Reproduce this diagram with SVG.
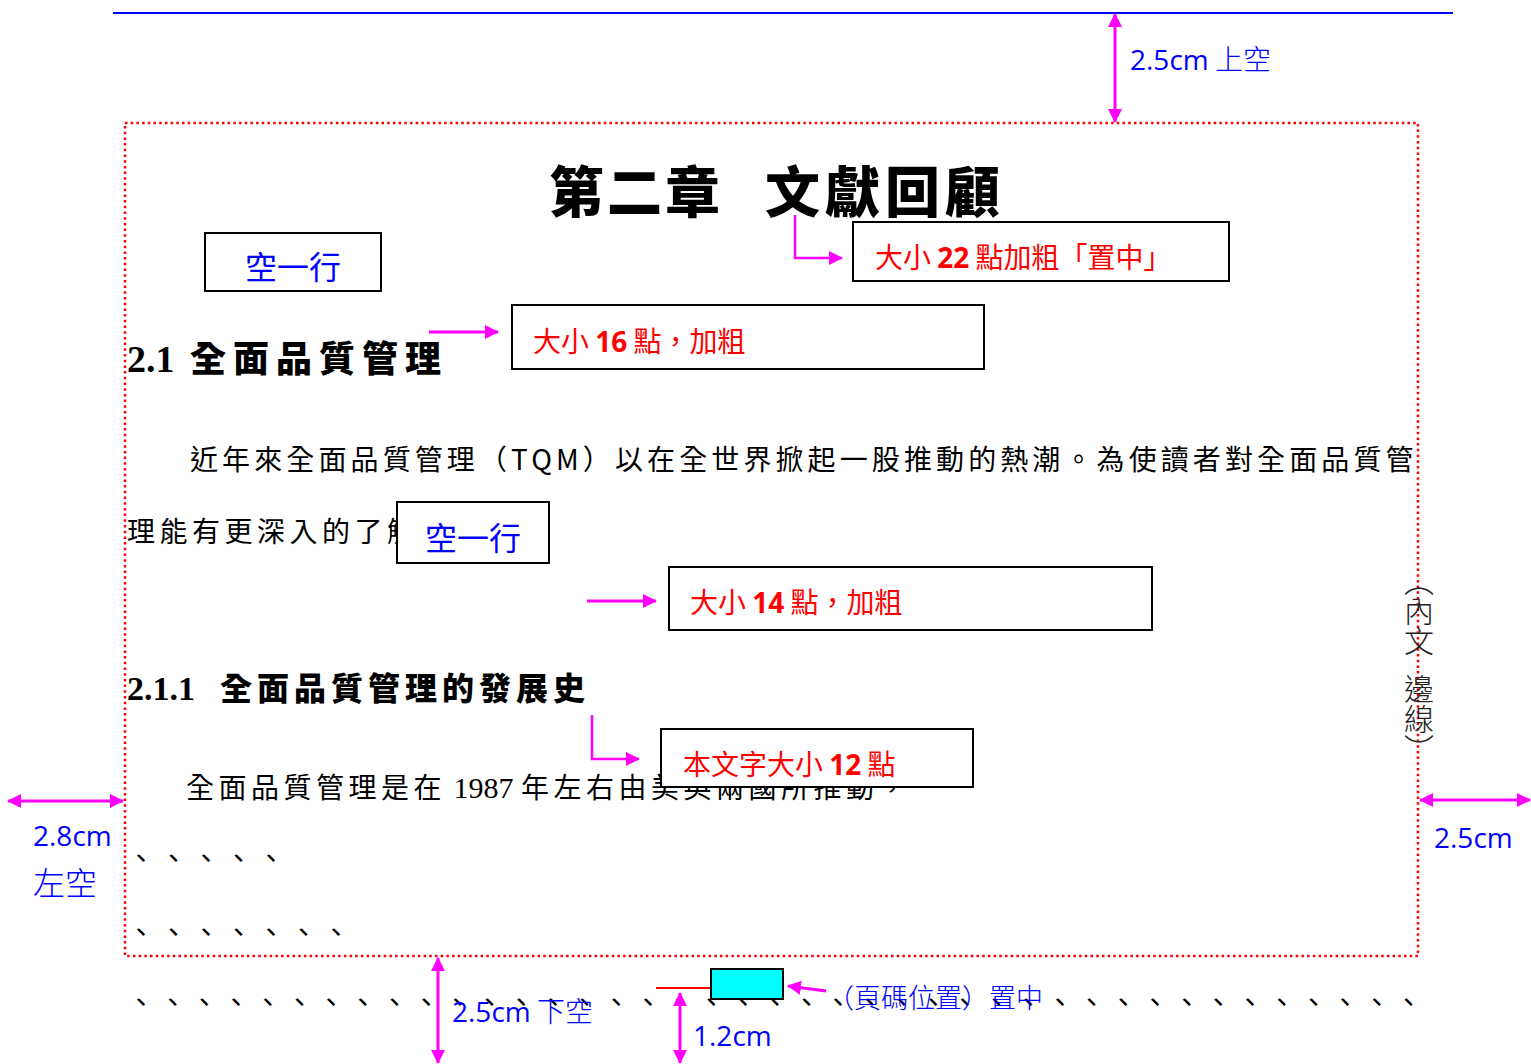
<svg xmlns="http://www.w3.org/2000/svg" width="1531" height="1064" viewBox="0 0 1531 1064">
<style>
.cjk{font-family:"Noto Sans CJK TC","Noto Sans CJK SC",sans-serif}
.lat{font-family:"Open Sans","Noto Sans",sans-serif}
.body{font-family:"Noto Sans CJK TC",sans-serif;font-size:28px;letter-spacing:4.5px;fill:#000}
.head{font-family:"Noto Sans CJK TC",sans-serif;font-weight:900;fill:#000}
.num{font-family:"Liberation Serif",serif;font-weight:bold}
.red{fill:#ff0000;font-size:28px}
.blue{fill:#0000ff}
.box{fill:#fff;stroke:#000;stroke-width:2}
.dim{stroke:#ff00ff;stroke-width:3;fill:none}
.con{stroke:#ff00ff;stroke-width:2.5;fill:none}
</style>
<defs>
<marker id="ah" viewBox="0 0 14 14" refX="13" refY="7" markerWidth="14" markerHeight="14" markerUnits="userSpaceOnUse" orient="auto-start-reverse">
<path d="M0,0 L14,7 L0,14 z" fill="#ff00ff"/>
</marker>
</defs>

<g id="page-lines">
<line x1="113" y1="13" x2="1453" y2="13" stroke="#0000ff" stroke-width="2"/>
<rect x="125" y="123" width="1293" height="833" fill="none" stroke="#ff0000" stroke-width="2.5" stroke-dasharray="2.5 3.2"/>
</g>

<g id="title">
<text class="head" x="549" y="212" font-size="55" letter-spacing="3">第二章 <tspan x="765" letter-spacing="5">文獻回顧</tspan></text>
</g>

<g id="heading-2-1">
<text x="127" y="372" class="head"><tspan class="num" font-size="38">2.1</tspan><tspan x="190" font-size="36" letter-spacing="7">全面品質管理</tspan></text>
</g>

<g id="body-1">
<text class="body" x="190" y="470" textLength="1228" lengthAdjust="spacing">近年來全面品質管理（TQM）以在全世界掀起一股推動的熱潮。為使讀者對全面品質管</text>
<text class="body" x="127" y="542">理能有更深入的了解</text>
</g>

<g id="heading-2-1-1">
<text x="127" y="700" class="head"><tspan class="num" font-size="34">2.1.1</tspan><tspan x="220" font-size="32" letter-spacing="5">全面品質管理的發展史</tspan></text>
</g>

<g id="body-2">
<text class="body" x="186" y="798"><tspan>全面品質管理是在</tspan><tspan font-family="Liberation Serif" font-size="30" letter-spacing="0"> 1987 </tspan><tspan>年左右由美英兩國所推動，</tspan></text>
<text class="body" x="127" y="869">、、、、、</text>
<text class="body" x="127" y="943">、、、、、、、</text>
<text class="body" x="127" y="1013" textLength="1300" lengthAdjust="spacing">、、、、、、、、、、、、、、、、、、、、、、、、、、、、、、、、、、、、、、、、、</text>
</g>

<g id="connectors">
<line class="dim" x1="1115" y1="14" x2="1115" y2="122" marker-start="url(#ah)" marker-end="url(#ah)"/>
<line class="dim" x1="8" y1="801" x2="123" y2="801" marker-start="url(#ah)" marker-end="url(#ah)"/>
<line class="dim" x1="1420" y1="800" x2="1530" y2="800" marker-start="url(#ah)" marker-end="url(#ah)"/>
<line class="dim" x1="438" y1="958" x2="438" y2="1063" marker-start="url(#ah)" marker-end="url(#ah)"/>
<line class="dim" x1="680" y1="993" x2="680" y2="1063" marker-start="url(#ah)" marker-end="url(#ah)"/>
<polyline class="con" points="795,215 795,258 842,258" marker-end="url(#ah)"/>
<line class="dim" x1="429" y1="332" x2="498" y2="332" marker-end="url(#ah)"/>
<line class="dim" x1="587" y1="601" x2="656" y2="601" marker-end="url(#ah)"/>
<polyline class="con" points="592,715 592,759 639,759" marker-end="url(#ah)"/>
<line class="dim" x1="826" y1="991" x2="788" y2="986" marker-end="url(#ah)"/>
<line x1="656" y1="988" x2="716" y2="988" stroke="#ff0000" stroke-width="2"/>
</g>

<g id="box-title-size">
<rect class="box" x="853" y="222" width="376" height="59"/>
<text class="cjk red" x="875" y="268">大小 <tspan class="lat" font-weight="bold">22</tspan> 點加粗「置中」</text>
</g>

<g id="box-blank-1">
<rect class="box" x="205" y="233" width="176" height="58"/>
<text class="cjk blue" x="293" y="279" font-size="32" text-anchor="middle">空一行</text>
</g>

<g id="box-16">
<rect class="box" x="512" y="305" width="472" height="64"/>
<text class="cjk red" x="533" y="352">大小 <tspan class="lat" font-weight="bold">16</tspan> 點，加粗</text>
</g>

<g id="box-blank-2">
<rect class="box" x="397" y="502" width="152" height="61"/>
<text class="cjk blue" x="473" y="550" font-size="32" text-anchor="middle">空一行</text>
</g>

<g id="box-14">
<rect class="box" x="669" y="567" width="483" height="63"/>
<text class="cjk red" x="690" y="613">大小 <tspan class="lat" font-weight="bold">14</tspan> 點，加粗</text>
</g>

<g id="box-12">
<rect class="box" x="661" y="729" width="312" height="58"/>
<text class="cjk red" x="683" y="775">本文字大小 <tspan class="lat" font-weight="bold">12</tspan> 點</text>
</g>

<g id="page-number">
<rect x="711" y="969" width="72" height="30" fill="#00ffff" stroke="#000" stroke-width="2"/>
</g>

<g id="labels">
<text class="blue" x="1130" y="70" font-size="28"><tspan class="lat">2.5cm</tspan><tspan class="cjk" font-weight="300"> 上空</tspan></text>
<text class="lat blue" x="33" y="846" font-size="28">2.8cm</text>
<text class="cjk blue" x="33" y="895" font-size="32" font-weight="300">左空</text>
<text class="lat blue" x="1434" y="848" font-size="28">2.5cm</text>
<text class="blue" x="452" y="1022" font-size="28"><tspan class="lat">2.5cm</tspan><tspan class="cjk" font-weight="300"> 下空</tspan></text>
<text class="lat blue" x="693" y="1046" font-size="28">1.2cm</text>
<text class="cjk blue" x="827" y="1008" font-size="27" font-weight="300">（頁碼位置）置中</text>
<text class="cjk" x="1419" y="566" font-size="30" fill="#222" font-weight="300" style="writing-mode:vertical-rl">（內文<tspan dy="18">邊線</tspan>）</text>
</g>
</svg>
